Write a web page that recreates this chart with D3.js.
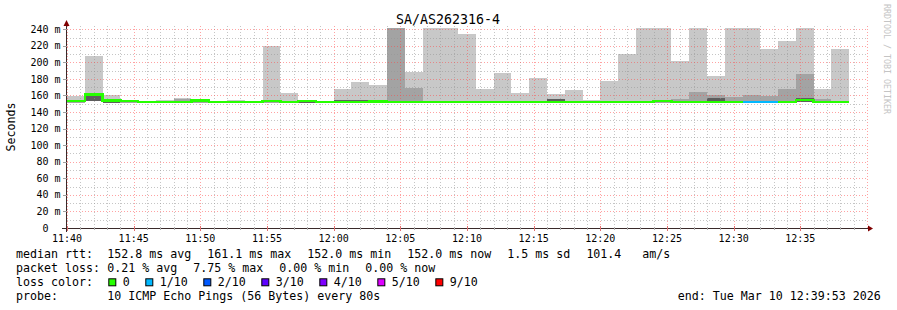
<!DOCTYPE html>
<html><head><meta charset="utf-8">
<script src="https://cdn.jsdelivr.net/npm/d3@7/dist/d3.min.js"></script>
<style>
html,body{margin:0;padding:0;background:#fff;}
svg{display:block;}
text{font-family:"DejaVu Sans Mono",monospace;white-space:pre;}
</style></head><body>
<svg id="c" width="897" height="310"></svg>
<script>
// ---------------- data ----------------
const chartTitle = "SA/AS262316-4";
const yAxisTitle = "Seconds";
const watermark = "RRDTOOL / TOBI OETIKER";
const startTime = new Date(2026, 2, 10, 11, 40, 0);
const endTime = new Date(2026, 2, 10, 12, 40, 0);
const stepSeconds = 80;

// per 80 s step (44 steps with data), values in ms
const maxPing = [159.4, 207.7, 160.6, 153.5, 153.0, 154.5, 157.0, 155.0, 153.5, 154.5, 153.0,
                 219.7, 163.0, 154.5, 153.0, 167.7, 176.3, 172.7, 250.0, 188.4, 250.0, 250.0,
                 234.2, 167.8, 187.2, 163.0, 181.1, 161.8, 166.6, 154.5, 177.5, 210.0, 250.0,
                 250.0, 201.6, 250.0, 183.5, 250.0, 250.0, 216.1, 225.8, 250.0, 167.8, 216.1];
const upperPing = [152.0, 160.0, 152.0, 152.0, 152.0, 152.0, 155.5, 152.0, 152.0, 152.0, 152.0,
                   152.0, 153.5, 154.5, 152.0, 153.5, 153.8, 152.0, 250.0, 169.0, 152.5, 152.0,
                   152.5, 152.0, 153.0, 152.0, 152.0, 155.8, 152.0, 153.0, 152.0, 152.0, 152.5,
                   153.0, 155.8, 164.2, 160.6, 158.2, 160.6, 159.4, 167.8, 185.9, 155.8, 152.0];
const darkPing = [151.5, 159.0, 152.1, 151.5, 151.5, 151.5, 151.5, 151.5, 151.5, 151.5, 151.5,
                  151.5, 151.5, 154.5, 151.5, 154.2, 154.0, 151.5, 151.5, 151.5, 151.5, 151.5,
                  151.5, 151.5, 151.5, 151.5, 151.5, 155.4, 151.5, 151.5, 151.5, 151.5, 151.5,
                  151.5, 151.5, 151.5, 157.3, 151.5, 151.5, 151.5, 151.5, 157.5, 151.5, 151.5];
const lowPing = [151.5, 153.3, 151.5, 150.9, 151.5, 151.5, 151.5, 151.5, 151.5, 151.5, 151.5,
                 151.5, 151.5, 151.5, 151.5, 151.5, 151.5, 151.5, 151.5, 151.5, 151.5, 151.5,
                 151.5, 151.5, 151.5, 151.5, 151.5, 151.5, 151.5, 151.5, 151.5, 151.5, 151.5,
                 151.5, 151.5, 151.5, 151.5, 151.5, 151.5, 151.5, 151.5, 152.5, 151.5, 151.5];
const medianRtt = [153.3, 161.1, 153.9, 153.3, 152.1, 152.1, 152.1, 153.9, 152.1, 152.1, 152.1,
                   153.3, 152.1, 153.3, 152.1, 152.1, 152.1, 152.6, 152.1, 152.1, 152.1, 152.1,
                   152.1, 152.1, 152.1, 152.1, 152.1, 152.1, 152.1, 152.1, 152.1, 152.1, 152.1,
                   153.3, 152.1, 152.1, 152.1, 152.1, 152.1, 152.1, 152.1, 154.5, 152.1, 152.1];
const lossCount = [0,0,0,0,0,0,0,0,0,0,0, 0,0,0,0,0,0,0,0,0,0,0,
                   0,0,0,0,0,0,0,0,0,0,0, 0,0,0,0,0,1,1,0,0,0,0];

const yTicks = [0, 20, 40, 60, 80, 100, 120, 140, 160, 180, 200, 220, 240];
const yTickLabels = ["0  ", "20 m", "40 m", "60 m", "80 m", "100 m", "120 m", "140 m", "160 m", "180 m", "200 m", "220 m", "240 m"];

const lossLabels = ["0", "1/10", "2/10", "3/10", "4/10", "5/10", "9/10"];
const lossColors = ["#26ff00", "#00b8ff", "#0059ff", "#5e00ff", "#7e00ff", "#dd00ff", "#ff0000"];

const rttLabel = "median rtt:";
const rttItems = ["152.8 ms avg  ", "161.1 ms max  ", "152.0 ms min  ", "152.0 ms now  ", "1.5 ms sd  ", "101.4   am/s"];
const lossLabel = "packet loss:";
const lossItems = ["0.21 % avg  ", "7.75 % max  ", "0.00 % min  ", "0.00 % now"];
const lossColorLabel = "loss color:";
const probeLabel = "probe:";
const probeText = "10 ICMP Echo Pings (56 Bytes) every 80s";
const endText = "end: Tue Mar 10 12:39:53 2026";

// ---------------- layout ----------------
const svg = d3.select("#c");
const L = 67, R = 867, T = 28, B = 228;
const yMax = 241.5;
const x = d3.scaleTime().domain([startTime, endTime]).range([L, R]);
const y = d3.scaleLinear().domain([0, yMax]).range([B, T]);
const stepTime = i => new Date(startTime.getTime() + i * stepSeconds * 1000);
const idx = d3.range(maxPing.length);

svg.append("rect").attr("width", 897).attr("height", 310).attr("fill", "#fff");

const defs = svg.append("defs");
defs.append("clipPath").attr("id", "plot").append("rect")
  .attr("x", L).attr("y", T).attr("width", R - L).attr("height", B - T);

// smoke
const smoke = svg.append("g").attr("clip-path", "url(#plot)").attr("shape-rendering", "crispEdges");
function band(arrTop, color) {
  smoke.append("g").selectAll("rect").data(idx).join("rect")
    .attr("x", i => x(stepTime(i)))
    .attr("width", i => x(stepTime(i + 1)) - x(stepTime(i)))
    .attr("y", i => y(Math.min(arrTop[i], yMax + 5)))
    .attr("height", i => Math.max(0, y(lowPing[i]) - y(Math.min(arrTop[i], yMax + 5))))
    .attr("fill", color);
}
band(maxPing, "#c8c8c8");
band(upperPing, "#a3a3a3");
band(darkPing, "#5e5e5e");

// grid
const grid = svg.append("g").attr("shape-rendering", "crispEdges");
const minorMinutes = d3.timeMinute.range(startTime, endTime, 1).filter(d => d.getMinutes() % 5 !== 0);
const majorMinutes = d3.timeMinute.range(startTime, d3.timeMinute.offset(endTime, 1), 5);
const minorY = d3.range(10, 250, 20);
const gridGray = "rgba(150,150,150,0.55)", gridRed = "rgba(255,70,70,0.5)";
grid.selectAll(".mvx").data(minorMinutes).join("line")
  .attr("x1", d => Math.round(x(d)) + 0.5).attr("x2", d => Math.round(x(d)) + 0.5)
  .attr("y1", B).attr("y2", T - 2)
  .attr("stroke", gridGray).attr("stroke-dasharray", "1,2");
grid.selectAll(".mhy").data(minorY).join("line")
  .attr("x1", L).attr("x2", R + 1)
  .attr("y1", d => Math.round(y(d)) + 0.5).attr("y2", d => Math.round(y(d)) + 0.5)
  .attr("stroke", gridGray).attr("stroke-dasharray", "1,2");
grid.selectAll(".Mvx").data(majorMinutes).join("line")
  .attr("x1", d => Math.round(x(d)) + 0.5).attr("x2", d => Math.round(x(d)) + 0.5)
  .attr("y1", B).attr("y2", T - 2)
  .attr("stroke", gridRed).attr("stroke-dasharray", "1,2");
grid.selectAll(".Mhy").data(yTicks.slice(1)).join("line")
  .attr("x1", L).attr("x2", R + 1)
  .attr("y1", d => Math.round(y(d)) + 0.5).attr("y2", d => Math.round(y(d)) + 0.5)
  .attr("stroke", gridRed).attr("stroke-dasharray", "1,2");

// median line
const medPts = idx.map(i => [stepTime(i), medianRtt[i]]);
medPts.push([stepTime(idx.length), medianRtt[idx.length - 1]]);
const medLine = d3.line().x(d => x(d[0])).y(d => y(d[1])).curve(d3.curveStepAfter);
svg.append("path").attr("d", medLine(medPts)).attr("fill", "none")
  .attr("stroke", lossColors[0]).attr("stroke-width", 2.4).attr("shape-rendering", "crispEdges");
idx.filter(i => lossCount[i] > 0).forEach(i => {
  svg.append("path")
    .attr("d", medLine([[stepTime(i), medianRtt[i]], [stepTime(i + 1), medianRtt[i]]]))
    .attr("fill", "none").attr("stroke", lossColors[lossCount[i]]).attr("stroke-width", 2.4)
    .attr("shape-rendering", "crispEdges");
});

// axes
const axisColor = "#3a2a2a";
const ax = svg.append("g").attr("shape-rendering", "crispEdges");
ax.append("line").attr("x1", 62).attr("x2", 870).attr("y1", B + 0.5).attr("y2", B + 0.5).attr("stroke", axisColor);
ax.append("line").attr("x1", L - 0.5).attr("x2", L - 0.5).attr("y1", B + 4).attr("y2", 24).attr("stroke", axisColor);
svg.append("path").attr("d", `M868,${B - 2.5}L873,${B + 0.5}L868,${B + 3.5}Z`).attr("fill", "#7f0000");
svg.append("path").attr("d", `M${L - 3.5},26L${L - 0.5},20L${L + 2.5},26Z`).attr("fill", "#7f0000");
// ticks
ax.selectAll(".xt").data(majorMinutes.filter(d => d < endTime)).join("line")
  .attr("x1", d => Math.round(x(d)) + 0.5).attr("x2", d => Math.round(x(d)) + 0.5)
  .attr("y1", B - 2).attr("y2", B + 3).attr("stroke", "#e07070");
ax.selectAll(".xmt").data(minorMinutes).join("line")
  .attr("x1", d => Math.round(x(d)) + 0.5).attr("x2", d => Math.round(x(d)) + 0.5)
  .attr("y1", B - 1).attr("y2", B + 2).attr("stroke", "#b0b0b0");
ax.selectAll(".yt").data(yTicks.slice(1)).join("line")
  .attr("x1", L - 4).attr("x2", L)
  .attr("y1", d => Math.round(y(d)) + 0.5).attr("y2", d => Math.round(y(d)) + 0.5)
  .attr("stroke", "#a0a0a0");

// tick labels
svg.append("g").selectAll("text").data(yTicks).join("text")
  .attr("x", 60.5).attr("y", d => y(d) + 3.6).attr("text-anchor", "end")
  .attr("font-size", "10px").attr("fill", "#000")
  .text((d, i) => yTickLabels[i]);
const fmt = d3.timeFormat("%H:%M");
svg.append("g").selectAll("text").data(majorMinutes.filter(d => d < endTime)).join("text")
  .attr("x", d => x(d)).attr("y", 241.5).attr("text-anchor", "middle")
  .attr("font-size", "10px").attr("fill", "#000").text(d => fmt(d));

// titles
svg.append("text").attr("x", 448).attr("y", 24).attr("text-anchor", "middle")
  .attr("font-size", "13.3px").attr("fill", "#000").text(chartTitle);
svg.append("text").attr("transform", "translate(15,127) rotate(-90)").attr("text-anchor", "middle")
  .attr("font-size", "11.6px").attr("fill", "#000").text(yAxisTitle);
svg.append("text").attr("transform", "translate(884,4) rotate(90)")
  .attr("font-size", "8.3px").attr("fill", "#c4c4c4").text(watermark);

// legend
const fs = 11.63, cw = fs * 0.602;
const col0 = 16, col1 = 107.3;
const lineY = [258.3, 272.3, 286.3, 300.3];
const lg = svg.append("g").attr("font-size", fs + "px").attr("fill", "#000");
function items(list, yy) {
  let cx = col1;
  list.forEach(s => { lg.append("text").attr("x", cx).attr("y", yy).text(s); cx += s.length * cw + 2; });
}
lg.append("text").attr("x", col0).attr("y", lineY[0]).text(rttLabel);
items(rttItems, lineY[0]);
lg.append("text").attr("x", col0).attr("y", lineY[1]).text(lossLabel);
items(lossItems, lineY[1]);
lg.append("text").attr("x", col0).attr("y", lineY[2]).text(lossColorLabel);
let cx = col1;
lossLabels.forEach((s, i) => {
  lg.append("rect").attr("x", cx + 1.5).attr("y", lineY[2] - 7.5).attr("width", 7).attr("height", 7)
    .attr("fill", lossColors[i]).attr("stroke", "#000").attr("stroke-width", 1);
  lg.append("text").attr("x", cx + 15.4).attr("y", lineY[2]).text(s);
  cx = cx + 15.4 + s.length * cw + 14.6;
});
lg.append("text").attr("x", col0).attr("y", lineY[3]).text(probeLabel);
lg.append("text").attr("x", col1).attr("y", lineY[3]).text(probeText);
lg.append("text").attr("x", 677.8).attr("y", lineY[3]).text(endText);
</script>
</body></html>
